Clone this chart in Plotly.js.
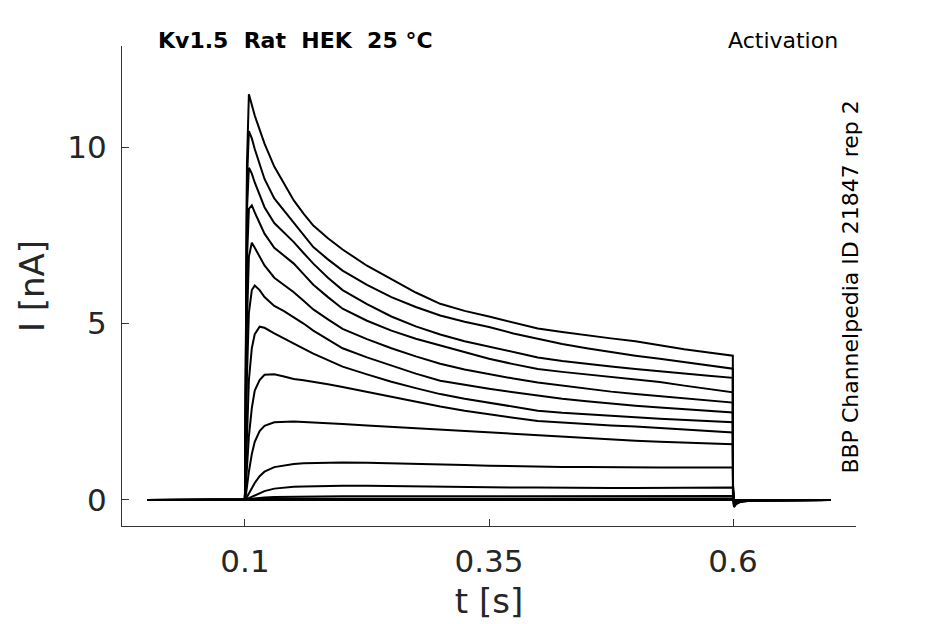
<!DOCTYPE html>
<html>
<head>
<meta charset="utf-8">
<script src="https://cdn.plot.ly/plotly-3.0.1.min.js"></script>
<style>
  html, body { margin: 0; padding: 0; background: #fff; }
  #chart { width: 945px; height: 624px; }
</style>
</head>
<body>
<div id="chart"></div>
<script>
var tSamples = [0, 0.0998, 0.1, 0.101, 0.102, 0.104, 0.107, 0.11, 0.115, 0.12,
  0.13, 0.14, 0.15, 0.16, 0.17, 0.185, 0.2, 0.225, 0.25, 0.275,
  0.3, 0.325, 0.35, 0.375, 0.4, 0.425, 0.45, 0.475, 0.5, 0.525,
  0.55, 0.575, 0.5998, 0.6, 0.601, 0.603, 0.608, 0.62, 0.7];

// current (nA) per sweep, largest first
var sweep1  = [0, 0, 0.2, 5.5, 9.5, 11.5, 11.2, 10.9, 10.5, 10.1,
  9.45, 8.95, 8.49, 8.12, 7.78, 7.42, 7.1, 6.64, 6.25, 5.88,
  5.56, 5.36, 5.2, 5.02, 4.86, 4.76, 4.66, 4.58, 4.5, 4.38,
  4.27, 4.18, 4.09, 0.4, -0.2, -0.12, -0.05, -0.02, 0];
var sweep2  = [0, 0, 0.2, 5.0, 9.0, 10.46, 10.25, 9.95, 9.5, 9.1,
  8.55, 8.2, 7.88, 7.5, 7.17, 6.82, 6.5, 6.1, 5.75, 5.47,
  5.23, 5.05, 4.9, 4.72, 4.56, 4.42, 4.3, 4.19, 4.09, 4.0,
  3.9, 3.81, 3.72, 0.4, -0.2, -0.12, -0.05, -0.02, 0];
var sweep3  = [0, 0, 0.2, 4.5, 8.2, 9.42, 9.25, 9.0, 8.65, 8.3,
  7.85, 7.58, 7.31, 7.0, 6.7, 6.3, 5.95, 5.55, 5.2, 4.92,
  4.69, 4.5, 4.35, 4.18, 4.04, 3.94, 3.85, 3.78, 3.71, 3.64,
  3.58, 3.52, 3.46, 0.4, -0.18, -0.1, -0.04, -0.02, 0];
var sweep4  = [0, 0, 0.15, 3.5, 6.8, 8.25, 8.35, 8.15, 7.85, 7.55,
  7.15, 6.93, 6.7, 6.4, 6.1, 5.75, 5.42, 5.08, 4.8, 4.57,
  4.38, 4.18, 4.0, 3.85, 3.71, 3.63, 3.56, 3.5, 3.43, 3.34,
  3.24, 3.14, 3.05, 0.3, -0.17, -0.1, -0.04, -0.02, 0];
var sweep5  = [0, 0, 0.1, 2.5, 5.0, 6.9, 7.29, 7.15, 6.9, 6.65,
  6.3, 6.1, 5.89, 5.65, 5.4, 5.12, 4.85, 4.56, 4.3, 4.07,
  3.86, 3.7, 3.56, 3.44, 3.33, 3.24, 3.15, 3.07, 3.0, 2.94,
  2.88, 2.82, 2.76, 0.3, -0.15, -0.09, -0.04, -0.01, 0];
var sweep6  = [0, 0, 0.1, 1.6, 3.5, 5.3, 5.95, 6.08, 5.95, 5.75,
  5.5, 5.35, 5.18, 5.0, 4.8, 4.55, 4.3, 4.04, 3.8, 3.58,
  3.38, 3.26, 3.15, 3.05, 2.95, 2.87, 2.8, 2.73, 2.67, 2.62,
  2.58, 2.53, 2.48, 0.25, -0.14, -0.08, -0.03, -0.01, 0];
var sweep7  = [0, 0, 0.05, 0.9, 2.0, 3.4, 4.3, 4.7, 4.91, 4.88,
  4.72, 4.57, 4.42, 4.29, 4.15, 3.96, 3.78, 3.56, 3.35, 3.17,
  3.0, 2.87, 2.75, 2.64, 2.53, 2.47, 2.42, 2.38, 2.34, 2.3,
  2.27, 2.23, 2.2, 0.2, -0.12, -0.07, -0.03, -0.01, 0];
var sweep8  = [0, 0, 0.03, 0.4, 0.9, 1.8, 2.6, 3.1, 3.4, 3.55,
  3.56, 3.5, 3.43, 3.39, 3.35, 3.28, 3.2, 3.06, 2.92, 2.78,
  2.65, 2.53, 2.42, 2.33, 2.24, 2.19, 2.15, 2.11, 2.08, 2.04,
  2.0, 1.95, 1.91, 0.15, -0.1, -0.06, -0.02, -0.01, 0];
var sweep9  = [0, 0, 0.02, 0.15, 0.4, 0.8, 1.3, 1.65, 1.95, 2.1,
  2.2, 2.22, 2.22, 2.21, 2.2, 2.18, 2.15, 2.11, 2.07, 2.02,
  1.98, 1.94, 1.9, 1.86, 1.82, 1.78, 1.75, 1.71, 1.68, 1.65,
  1.63, 1.6, 1.58, 0.1, -0.08, -0.05, -0.02, -0.01, 0];
var sweep10 = [0, 0, 0, 0.03, 0.08, 0.18, 0.33, 0.48, 0.67, 0.8,
  0.93, 0.98, 1.02, 1.04, 1.05, 1.06, 1.06, 1.05, 1.04, 1.02,
  1.01, 0.99, 0.97, 0.95, 0.94, 0.93, 0.93, 0.92, 0.92, 0.92,
  0.92, 0.92, 0.92, 0.05, -0.06, -0.04, -0.02, 0, 0];
var sweep11 = [0, 0, 0, 0.01, 0.02, 0.05, 0.09, 0.14, 0.2, 0.25,
  0.32, 0.35, 0.37, 0.38, 0.39, 0.4, 0.4, 0.4, 0.39, 0.38,
  0.37, 0.36, 0.36, 0.35, 0.35, 0.34, 0.34, 0.34, 0.34, 0.34,
  0.35, 0.35, 0.35, 0.02, -0.05, -0.03, -0.01, 0, 0];
var sweep12 = [0, 0, 0, 0, 0.01, 0.02, 0.03, 0.04, 0.06, 0.07,
  0.08, 0.085, 0.09, 0.095, 0.1, 0.1, 0.1, 0.1, 0.1, 0.095,
  0.09, 0.09, 0.09, 0.09, 0.09, 0.095, 0.1, 0.1, 0.1, 0.105,
  0.11, 0.11, 0.11, 0, -0.04, -0.02, -0.01, 0, 0];
var sweep13 = [0, 0, 0, 0, 0, 0.01, 0.01, 0.02, 0.02, 0.03,
  0.03, 0.035, 0.04, 0.04, 0.04, 0.04, 0.04, 0.04, 0.04, 0.04,
  0.04, 0.04, 0.04, 0.04, 0.04, 0.04, 0.04, 0.04, 0.04, 0.04,
  0.04, 0.04, 0.04, 0, -0.03, -0.02, -0.01, 0, 0];
var sweep14 = [0, 0, 0, 0, 0, 0, 0, 0, 0, 0,
  0, 0, 0, 0, 0, 0, 0, 0, 0, 0,
  0, 0, 0, 0, 0, 0, 0, 0, 0, 0,
  0, 0, 0, 0, -0.02, -0.01, 0, 0, 0];

var sweeps = [sweep1, sweep2, sweep3, sweep4, sweep5, sweep6, sweep7,
  sweep8, sweep9, sweep10, sweep11, sweep12, sweep13, sweep14];

var xTicks = [0.1, 0.35, 0.6];
var yTicks = [0, 5, 10];

var data = sweeps.map(function (s) {
  return {
    x: tSamples,
    y: s,
    type: 'scatter',
    mode: 'lines',
    line: { color: '#000', width: 2 },
    hoverinfo: 'skip',
    showlegend: false
  };
});

var axisColor = '#333';
var tickFont = { family: 'DejaVu Sans', size: 31, color: '#262626' };
var titleFont = { family: 'DejaVu Sans', size: 34, color: '#262626' };

var layout = {
  width: 945,
  height: 624,
  margin: { l: 122, r: 89, t: 46, b: 98 },
  paper_bgcolor: '#fff',
  plot_bgcolor: '#fff',
  font: { family: 'DejaVu Sans', color: '#262626' },
  xaxis: {
    range: [-0.026, 0.726],
    tickvals: xTicks,
    ticktext: xTicks.map(String),
    ticks: 'inside',
    ticklen: 7,
    tickcolor: axisColor,
    showline: true,
    linecolor: axisColor,
    linewidth: 1,
    showgrid: false,
    zeroline: false,
    tickfont: tickFont,
    ticklabelstandoff: 8,
    title: { text: 't [s]', font: titleFont, standoff: 10 },
    fixedrange: true
  },
  yaxis: {
    range: [-0.74, 12.87],
    tickvals: yTicks,
    ticktext: yTicks.map(String),
    ticks: 'inside',
    ticklen: 7,
    tickcolor: axisColor,
    showline: true,
    linecolor: axisColor,
    linewidth: 1,
    showgrid: false,
    zeroline: false,
    tickfont: tickFont,
    ticklabelstandoff: 8,
    title: { text: 'I [nA]', font: titleFont, standoff: 12 },
    fixedrange: true
  },
  annotations: [
    {
      text: '<b>Kv1.5\u00a0\u00a0Rat\u00a0\u00a0HEK\u00a0\u00a025 °C</b>',
      xref: 'paper', yref: 'paper', x: 0.047, y: 1.0125,
      xanchor: 'left', yanchor: 'middle', showarrow: false,
      font: { family: 'DejaVu Sans', size: 22, color: '#000' }
    },
    {
      text: 'Activation',
      xref: 'paper', yref: 'paper', x: 0.978, y: 1.0125,
      xanchor: 'right', yanchor: 'middle', showarrow: false,
      font: { family: 'DejaVu Sans', size: 22, color: '#000' }
    },
    {
      text: 'BBP Channelpedia ID 21847 rep 2',
      xref: 'paper', yref: 'paper', x: 0.992, y: 0.497,
      xanchor: 'center', yanchor: 'middle', showarrow: false, textangle: -90,
      font: { family: 'DejaVu Sans', size: 22, color: '#000' }
    }
  ]
};

Plotly.newPlot('chart', data, layout, { displayModeBar: false, staticPlot: true });
</script>
</body>
</html>
